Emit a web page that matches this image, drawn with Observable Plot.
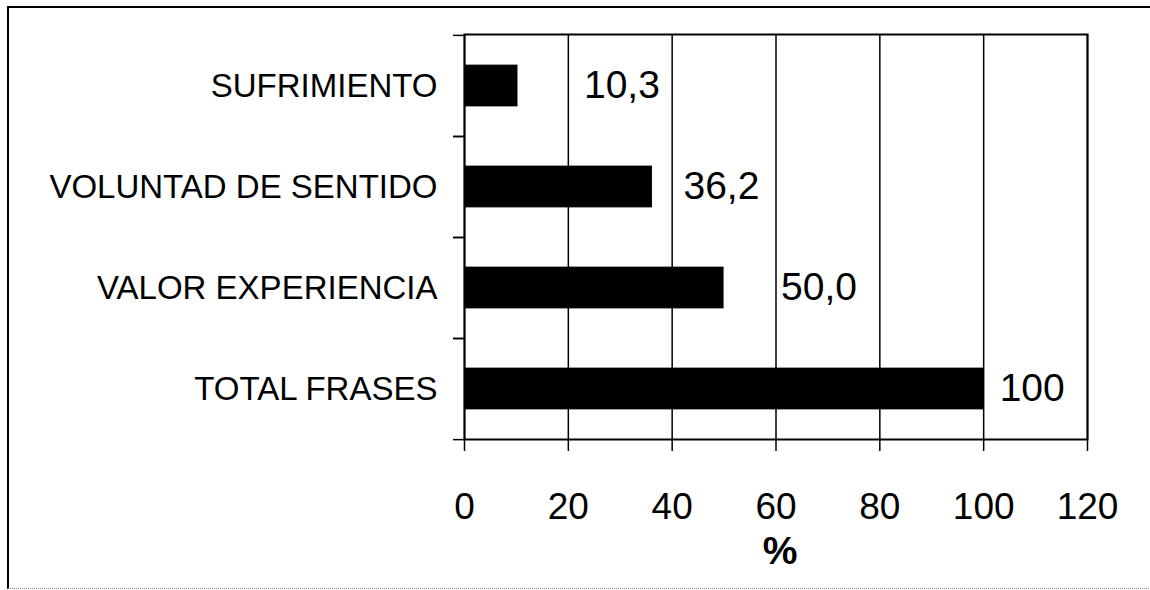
<!DOCTYPE html>
<html>
<head>
<meta charset="utf-8">
<script src="https://cdn.jsdelivr.net/npm/d3@7"></script>
<script src="https://cdn.jsdelivr.net/npm/@observablehq/plot@0.6"></script>
<style>
  html, body { margin: 0; padding: 0; background: #fff; }
  #wrap { position: relative; width: 1150px; height: 590px; overflow: hidden; }
  #border { position: absolute; left: 7px; top: 6px; width: 1160px; height: 580px;
            border-top: 2px solid #000; border-left: 2px solid #000; border-bottom: 1px dotted #888; }
  #chart { position: absolute; left: 0; top: 0; }
  svg { font-family: "Liberation Sans", Arial, sans-serif; }
</style>
</head>
<body>
<div id="wrap"><div id="border"></div><div id="chart"></div></div>
<script>
// Data
const categories = ["SUFRIMIENTO", "VOLUNTAD DE SENTIDO", "VALOR EXPERIENCIA", "TOTAL FRASES"];
const values = [10.3, 36.2, 50.0, 100];
const valueLabels = ["10,3", "36,2", "50,0", "100"];
const xTicks = [0, 20, 40, 60, 80, 100, 120];
const axisLabel = "%";

const data = categories.map((c, i) => ({category: c, value: values[i], label: valueLabels[i]}));

// Layout
const W = 1150, H = 590;
const mL = 464, mR = 63, mT = 34, mB = 151;
const step = (H - mT - mB) / categories.length;
const barThickness = 42;
const inset = (step - barThickness) / 2;
const labelDx = [66, 31, 57, 16]; // label offsets as placed in the original

const plot = Plot.plot({
  width: W,
  height: H,
  marginLeft: mL,
  marginRight: mR,
  marginTop: mT,
  marginBottom: mB,
  x: {domain: [0, 120], ticks: xTicks, label: null},
  y: {domain: categories, padding: 0, label: null},
  marks: [
    Plot.gridX(xTicks, {stroke: "#000", strokeOpacity: 1, strokeWidth: 1.5}),
    Plot.barX(data, {x: "value", y: "category", fill: "#000", insetTop: inset, insetBottom: inset}),
    Plot.frame({stroke: "#000", strokeWidth: 2}),
    // category boundary ticks on the left
    Plot.ruleY(categories, {y: d => d, x1: 0, x2: 0, insetLeft: -11, dy: -step / 2, stroke: "#000", strokeWidth: 1.5}),
    Plot.ruleY(categories, {y: d => d, x1: 0, x2: 0, insetLeft: -11, dy: step / 2, stroke: "#000", strokeWidth: 1.5}),
    Plot.axisY({tickSize: 0, tickPadding: 27, fontSize: 33, fill: "#000"}),
    Plot.axisX({ticks: xTicks, tickSize: 12, tickPadding: 41, fontSize: 37, strokeWidth: 1.5, stroke: "#000", fill: "#000", label: null}),
    ...data.map((d, i) => Plot.text([d], {
      x: "value", y: "category", text: "label",
      textAnchor: "start", dx: labelDx[i], fontSize: 39, fill: "#000"
    })),
    Plot.text([axisLabel], {frameAnchor: "bottom", lineAnchor: "bottom", dy: 124, dx: 4, fontSize: 39, fontWeight: "bold", fill: "#000"})
  ]
});
document.getElementById("chart").appendChild(plot);
</script>
</body>
</html>
